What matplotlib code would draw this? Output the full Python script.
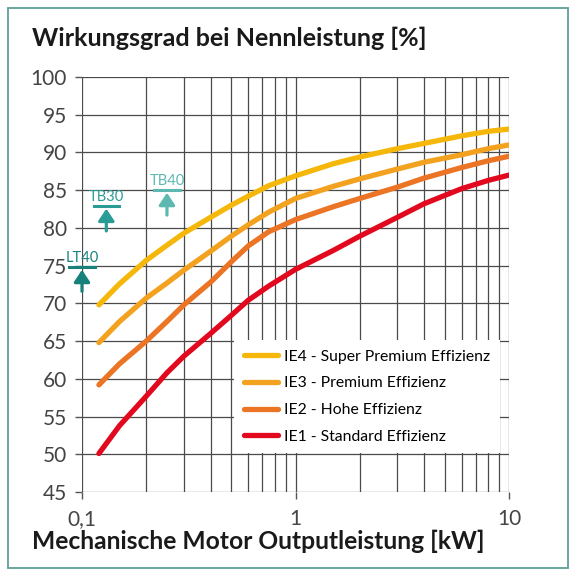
import matplotlib
matplotlib.use("Agg")
import matplotlib.pyplot as plt
from matplotlib.patches import Rectangle
from matplotlib.ticker import FixedLocator, NullFormatter

# ---- data ----
power_kw = [0.12, 0.15, 0.2, 0.25, 0.3, 0.4, 0.5, 0.6, 0.75, 1, 1.5, 2, 3, 4, 6, 8, 10]
ie4 = [69.8, 72.6, 75.7, 77.7, 79.3, 81.4, 83.0, 84.2, 85.6, 86.9, 88.5, 89.4, 90.5, 91.2, 92.2, 92.8, 93.1]
ie3 = [64.8, 67.6, 70.7, 72.7, 74.4, 76.9, 78.9, 80.4, 82.1, 83.9, 85.5, 86.5, 87.8, 88.7, 89.7, 90.5, 91.0]
ie2 = [59.2, 62.0, 65.0, 67.6, 69.8, 72.8, 75.5, 77.6, 79.5, 81.1, 82.8, 83.9, 85.4, 86.6, 88.0, 88.9, 89.5]
ie1 = [50.1, 53.8, 57.7, 60.8, 63.0, 66.0, 68.4, 70.4, 72.3, 74.5, 77.0, 78.9, 81.4, 83.2, 85.2, 86.3, 87.0]
series_labels = ["IE4 - Super Premium Effizienz", "IE3 - Premium Effizienz",
                 "IE2 - Hohe Effizienz", "IE1 - Standard Effizienz"]
series_colors = ["#F6B70B", "#F3A21F", "#EC7425", "#E2081E"]

marker_names = ["LT40", "TB30", "TB40"]
marker_x = [0.1, 0.13, 0.25]
marker_level = [74.8, 82.9, 85.0]
marker_arrow_from = [71.6, 79.6, 81.7]
marker_colors = ["#17817B", "#2A9C96", "#5DB8B2"]

y_ticks = [45, 50, 55, 60, 65, 70, 75, 80, 85, 90, 95, 100]
x_ticks = [0.1, 1, 10]
x_tick_labels = ["0,1", "1", "10"]

plt.rcParams['font.family'] = ['Lato', 'DejaVu Sans']

fig = plt.figure(figsize=(5.8, 5.8), dpi=100, facecolor="white")
fig.patches.append(Rectangle((8/580, 12/580), 560/580, 560/580, transform=fig.transFigure,
                             fill=False, edgecolor="#5E9F98", linewidth=1.3))

ax = fig.add_axes([82/580, 1-492/580, 427/580, 415/580])
ax.set_xscale('log')
ax.set_xlim(0.1, 10)
ax.set_ylim(45, 100)

for vals, lab, col in zip([ie4, ie3, ie2, ie1], series_labels, series_colors):
    ax.plot(power_kw, vals, color=col, lw=3.8, label=lab, solid_capstyle='round',
            solid_joinstyle='round', zorder=3)

ax.set_yticks(y_ticks)
ax.set_yticklabels([str(v) for v in y_ticks])
ax.xaxis.set_major_locator(FixedLocator(x_ticks))
ax.set_xticklabels(x_tick_labels)
ax.xaxis.set_minor_locator(FixedLocator([m * d for d in (0.1, 1) for m in range(2, 10)]))
ax.xaxis.set_minor_formatter(NullFormatter())
ax.tick_params(axis='both', which='major', labelsize=15, colors="#555555", labelcolor="#444444",
               length=5, width=1, pad=6)
ax.tick_params(axis='x', which='minor', length=0)
ax.tick_params(axis='x', which='major', pad=7)
ax.grid(True, which='both', color="#4A4A4A", linewidth=0.9)
ax.set_axisbelow(True)
for s in ax.spines.values():
    s.set_visible(False)

# teal markers
for name, x, lvl, y0, col in zip(marker_names, marker_x, marker_level, marker_arrow_from, marker_colors):
    f = 10 ** 0.06
    ax.plot([x / f, x * f], [lvl, lvl], color=col, lw=2.2, clip_on=False, zorder=4)
    ax.annotate("", xy=(x, lvl - 0.35), xytext=(x, y0),
                arrowprops=dict(arrowstyle="-|>,head_width=0.4,head_length=0.6", color=col, lw=2.3,
                                shrinkA=0, shrinkB=0, mutation_scale=12),
                annotation_clip=False, zorder=4)
    ax.text(x, lvl + 0.3, name, color=col, fontsize=10.5, ha='center', va='bottom', zorder=4)

leg = ax.legend(loc='lower right', bbox_to_anchor=(0.979, 0.094), fontsize=11.3, frameon=True,
                framealpha=1, edgecolor='none', facecolor='white', handlelength=2.2,
                labelspacing=0.8, borderpad=0.6, handletextpad=0.4, borderaxespad=0)
leg.get_frame().set_boxstyle('square', pad=0)
leg.set_zorder(5)

fig.text(32/580, 1-38/580, "Wirkungsgrad bei Nennleistung [%]", fontsize=18, fontweight='bold',
         color="#1A1A1A", ha='left', va='center')
fig.text(32/580, 1-541/580, "Mechanische Motor Outputleistung [kW]", fontsize=17.7, fontweight='bold',
         color="#1A1A1A", ha='left', va='center')

fig.savefig("out.png", dpi=100, facecolor="white")
